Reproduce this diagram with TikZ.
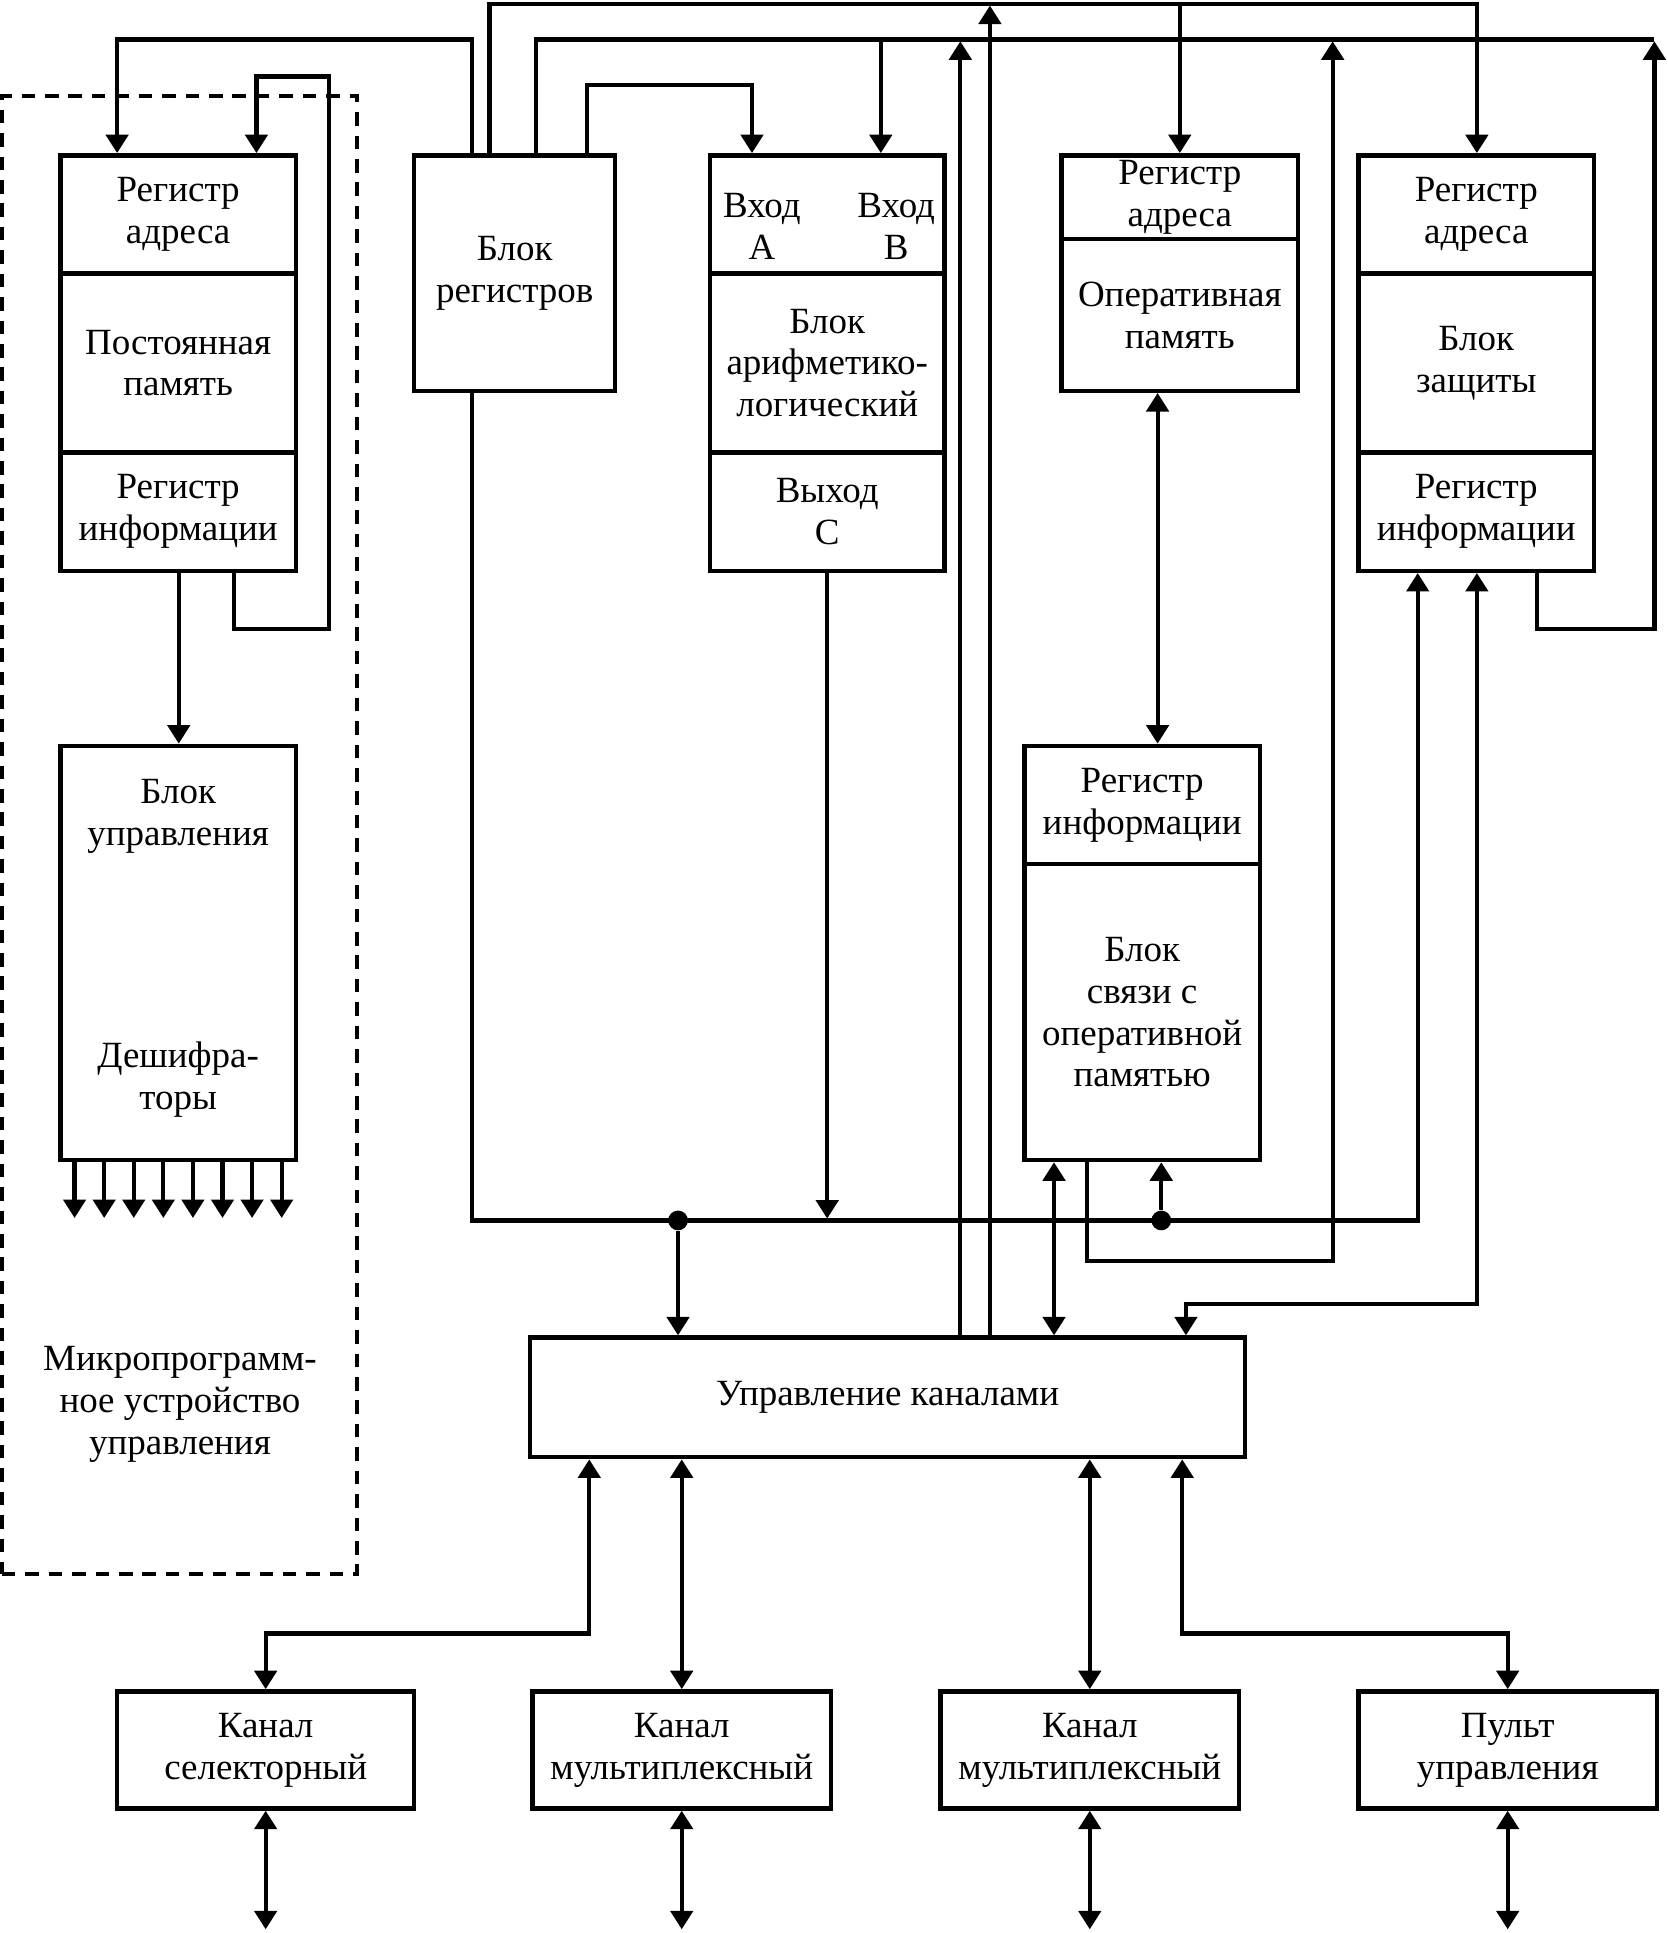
\documentclass[tikz,border=0pt]{standalone}
\usepackage{fontspec}
\setmainfont{Liberation Serif}
\usetikzlibrary{arrows.meta,calc}
\begin{document}
\begin{tikzpicture}[x=0.5pt,y=-0.5pt,
  ln/.style={line width=1.7pt},
  arr/.style={ln,-{Triangle[length=7.5pt,width=9pt]}},
  darr/.style={ln,{Triangle[length=7.5pt,width=9pt]}-{Triangle[length=7.5pt,width=9pt]}},
  blk/.style={draw,line width=1.8pt,inner sep=0pt,rectangle,font=\fontsize{15pt}{17pt}\selectfont,align=center},
  txt/.style={font=\fontsize{15pt}{17pt}\selectfont,align=center,inner sep=0pt},
  jdot/.style={circle,fill,inner sep=0pt,minimum size=8pt},
  divl/.style={line width=1.8pt}
]
\path[use as bounding box, fill=white] (0,0) rectangle (1353,1568);

% dashed frame of the microprogram control unit
\node[draw,dash pattern=on 5.5pt off 4pt,line width=1.6pt,inner sep=0pt,minimum width=144pt,minimum height=599.5pt] (mpu) at (145.5,677.5) {};
\node[txt] (mputxt) at (146,1139) {Микропрограмм-\\ное устройство\\управления};

% boxes
\node[blk,minimum width=95.5pt,minimum height=168.5pt] (pzu) at (144.5,294.5) {};
\node[blk,minimum width=95.5pt,minimum height=168pt] (bu) at (144.5,773) {};
\node[blk,minimum width=81.5pt,minimum height=95.5pt] (breg) at (417.5,221.5) {Блок\\регистров};
\node[blk,minimum width=95pt,minimum height=168.5pt] (alu) at (671,294.5) {};
\node[blk,minimum width=96pt,minimum height=95.5pt] (op) at (957,221.5) {};
\node[blk,minimum width=95.5pt,minimum height=168pt] (bs) at (926.5,773) {};
\node[blk,minimum width=95.5pt,minimum height=168.5pt] (bz) at (1197.5,294.5) {};
\node[blk,minimum width=290pt,minimum height=48.5pt] (uk) at (720,1133.5) {Управление каналами};
\node[blk,minimum width=120.5pt,minimum height=47.5pt] (k1) at (215.5,1419.5) {Канал\\селекторный};
\node[blk,minimum width=121pt,minimum height=47.5pt] (k2) at (553,1419.5) {Канал\\мультиплексный};
\node[blk,minimum width=121pt,minimum height=47.5pt] (k3) at (884,1419.5) {Канал\\мультиплексный};
\node[blk,minimum width=121pt,minimum height=47.5pt] (k4) at (1223,1419.5) {Пульт\\управления};

% dividers
\draw[divl] (pzu.west |- 0,222) -- (pzu.east |- 0,222);
\draw[divl] (pzu.west |- 0,367) -- (pzu.east |- 0,367);
\draw[divl] (alu.west |- 0,222) -- (alu.east |- 0,222);
\draw[divl] (alu.west |- 0,367) -- (alu.east |- 0,367);
\draw[divl] (bz.west |- 0,222) -- (bz.east |- 0,222);
\draw[divl] (bz.west |- 0,367) -- (bz.east |- 0,367);
\draw[divl] (op.west |- 0,194) -- (op.east |- 0,194);
\draw[divl] (bs.west |- 0,701) -- (bs.east |- 0,701);

% texts in sections
\node[txt] (pzu1) at (144.5,174) {Регистр\\адреса};
\node[txt] (pzu2) at (144.5,294.5) {Постоянная\\память};
\node[txt] (pzu3) at (144.5,415) {Регистр\\информации};
\node[txt] (bu1) at (144.5,662) {Блок\\управления};
\node[txt] (bu2) at (144.5,876) {Дешифра-\\торы};
\node[txt] (aluA) at (618,184) {Вход\\A};
\node[txt] (aluB) at (727,184) {Вход\\B};
\node[txt] (alu2) at (671,294.5) {Блок\\арифметико-\\логический};
\node[txt] (alu3) at (671,415) {Выход\\C};
\node[txt] (op1) at (957,160) {Регистр\\адреса};
\node[txt] (op2) at (957,256) {Оперативная\\память};
\node[txt] (bs1) at (926.5,653) {Регистр\\информации};
\node[txt] (bs2) at (926.5,821) {Блок\\связи с\\оперативной\\памятью};
\node[txt] (bz1) at (1197.5,174) {Регистр\\адреса};
\node[txt] (bz2) at (1197.5,294.5) {Блок\\защиты};
\node[txt] (bz3) at (1197.5,415) {Регистр\\информации};

% junction dots
\node[jdot] (j1) at (550,990) {};
\node[jdot] (j2) at (942,990) {};

% --- upper connections ---
\draw[arr] (breg.north -| 383,0) -- (383,32) -- (95,32) -- (pzu.north -| 95,0);
\draw[arr] (breg.north -| 397,0) -- (397,3) -- (1198,3) -- (bz.north -| 1198,0);
\draw[arr] (957,3) -- (op.north -| 957,0);
\draw[ln] (breg.north -| 435,0) -- (435,32) -- (1342,32);
\draw[arr] (714.5,32) -- (alu.north -| 714.5,0);
\draw[arr] (breg.north -| 476,0) -- (476,69) -- (610,69) -- (alu.north -| 610,0);

% ROM feedback loop and control
\draw[arr] (pzu.south -| 190,0) -- (190,510) -- (267,510) -- (267,62) -- (208,62) -- (pzu.north -| 208,0);
\draw[arr] (pzu.south -| 145,0) -- (bu.north -| 145,0);
\foreach \i in {0,...,7}{
  \coordinate (d\i) at ({60.5+24*\i},988);
  \draw[arr] (bu.south -| d\i) -- (d\i);
}

% protection block loop
\draw[arr] (bz.south -| 1247,0) -- (1247,510) -- (1342,510) -- (1342,33.5);

% bus
\draw[arr] (breg.south -| 383,0) -- (383,990) -- (1150,990) -- (bz.south -| 1150,0);
\draw[arr] (alu.south -| 671,0) -- (671,988.5);
\draw[arr] (j1) -- (uk.north -| j1);
\draw[arr] (j2) -- (bs.south -| j2);

% memory links
\draw[darr] (op.south -| 939,0) -- (bs.north -| 939,0);
\draw[darr] (bs.south -| 855,0) -- (uk.north -| 855,0);
\draw[arr] (bs.south -| 882,0) -- (882,1023) -- (1081,1023) -- (1081,33.5);
\draw[darr] (bz.south -| 1198,0) -- (1198,1058) -- (962,1058) -- (uk.north -| 962,0);

% channel control upward lines
\draw[arr] (uk.north -| 779,0) -- (779,33.5);
\draw[arr] (uk.north -| 803,0) -- (803,4.5);

% channels
\draw[darr] (uk.south -| 478,0) -- (478,1325) -- (215.5,1325) -- (k1.north);
\draw[darr] (uk.south -| k2.north) -- (k2.north);
\draw[darr] (uk.south -| k3.north) -- (k3.north);
\draw[darr] (uk.south -| 959,0) -- (959,1325) -- (1223,1325) -- (k4.north);

\coordinate (e1) at (215.5,1565);
\coordinate (e2) at (553,1565);
\coordinate (e3) at (884,1565);
\coordinate (e4) at (1223,1565);
\draw[darr] (k1.south) -- (e1);
\draw[darr] (k2.south) -- (e2);
\draw[darr] (k3.south) -- (e3);
\draw[darr] (k4.south) -- (e4);
\end{tikzpicture}
\end{document}
